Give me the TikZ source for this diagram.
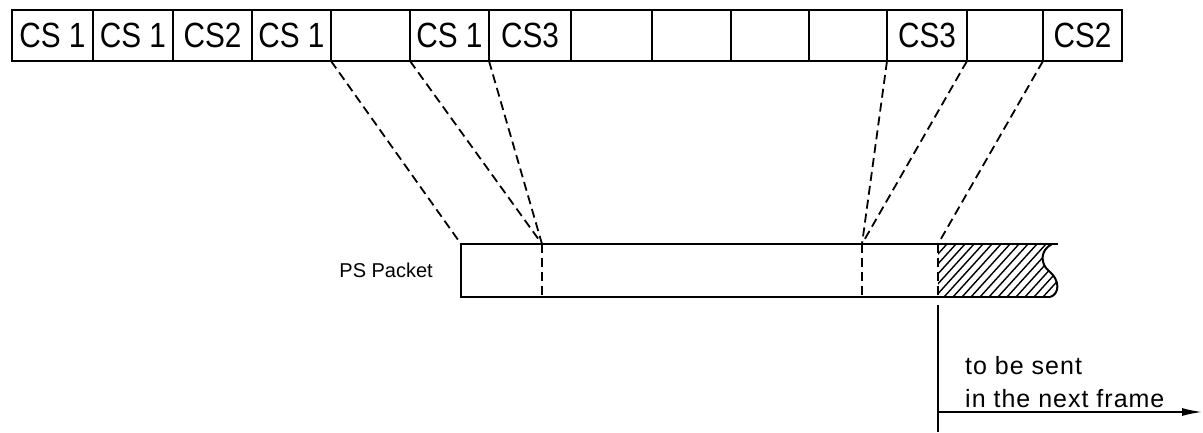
\documentclass[tikz,border=0pt]{standalone}
\usepackage{fontspec}
\setmainfont{Liberation Sans}
\newfontfamily\cellfont[FakeStretch=0.85]{Liberation Sans}
\newfontfamily\notefont[LetterSpace=4]{Liberation Sans}
\usetikzlibrary{arrows.meta}
\begin{document}
\begin{tikzpicture}[x=1pt,y=-1pt,
  cell/.style={draw,line width=2pt,minimum height=51pt,inner sep=0pt,outer sep=0pt,
    font=\cellfont\fontsize{35}{35}\selectfont},
  link/.style={line width=1.8pt,dash pattern=on 9pt off 5pt},
  frame/.style={line width=2pt},
  hatch/.style={line width=1.4pt},
  caption/.style={inner sep=0pt,font=\notefont\fontsize{25}{25}\selectfont}]
\useasboundingbox (0,0) rectangle (1203,432);

% frame of channel slots
\node[cell,minimum width=81pt] (c1)  at (52.5,35.5)  {CS 1};
\node[cell,minimum width=80pt] (c2)  at (133,35.5)   {CS 1};
\node[cell,minimum width=79pt] (c3)  at (212.5,35.5) {CS2};
\node[cell,minimum width=79pt] (c4)  at (291.5,35.5) {CS 1};
\node[cell,minimum width=79pt] (c5)  at (370.5,35.5) {};
\node[cell,minimum width=79pt] (c6)  at (449.5,35.5) {CS 1};
\node[cell,minimum width=82pt] (c7)  at (530,35.5)   {CS3};
\node[cell,minimum width=81pt] (c8)  at (611.5,35.5) {};
\node[cell,minimum width=79pt] (c9)  at (691.5,35.5) {};
\node[cell,minimum width=78pt] (c10) at (770,35.5)   {};
\node[cell,minimum width=78pt] (c11) at (848,35.5)   {};
\node[cell,minimum width=80pt] (c12) at (927,35.5)   {CS3};
\node[cell,minimum width=76pt] (c13) at (1005,35.5)  {};
\node[cell,minimum width=79pt] (c14) at (1082.5,35.5) {CS2};

% PS packet outline
\coordinate (p1) at (461,244);
\coordinate (p2) at (542,244);
\coordinate (p3) at (862,244);
\coordinate (p4) at (938,244);
\coordinate (q1) at (461,297);
\coordinate (q2) at (542,297);
\coordinate (q3) at (862,297);
\coordinate (q4) at (938,297);
\coordinate (pe) at (1058,244);
\coordinate (pw) at (1052,244);
\coordinate (qe) at (1050,297);

% hatched remainder
\begin{scope}
  \clip (p4) -- (pw) .. controls (1040,250) and (1040,264) .. (1049,271)
        .. controls (1060,280) and (1060,294) .. (qe) -- (q4) -- cycle;
  \foreach \k in {0,...,22}
    \draw[hatch] (\k*9+890,297) -- ++(48,-53);
\end{scope}

\draw[frame] (pe) -- (p1) -- (q1) -- (qe);
\draw[frame] (pw) .. controls (1040,250) and (1040,264) .. (1049,271)
      .. controls (1060,280) and (1060,294) .. (qe);
\draw[link] (p2) -- (q2);
\draw[link] (p3) -- (q3);
\draw[link] (p4) -- (q4);

\node[anchor=base east,inner sep=0pt,font=\fontsize{20}{20}\selectfont] (ps) at (433,277) {PS Packet};

% slot-to-packet mapping
\draw[link] (c5.south west) -- (p1);
\draw[link] (c6.south west) -- (p2);
\draw[link] (c6.south east) -- (p2);
\draw[link] (c12.south west) -- (p3);
\draw[link] (c12.south east) -- (p3);
\draw[link] (c14.south west) -- (p4);

% next-frame marker
\coordinate (v1) at (938,305);
\coordinate (v2) at (938,432);
\coordinate (a1) at (938,412);
\coordinate (a2) at (1202,412);
\draw[line width=1.6pt] (v1) -- (v2);
\draw[line width=1.6pt,-{Latex[length=20pt,width=8pt]}] (a1) -- (a2);
\node[caption,anchor=base west] (t1) at (965,374) {to be sent};
\node[caption,anchor=base west] (t2) at (965,407) {in the next frame};
\end{tikzpicture}
\end{document}
